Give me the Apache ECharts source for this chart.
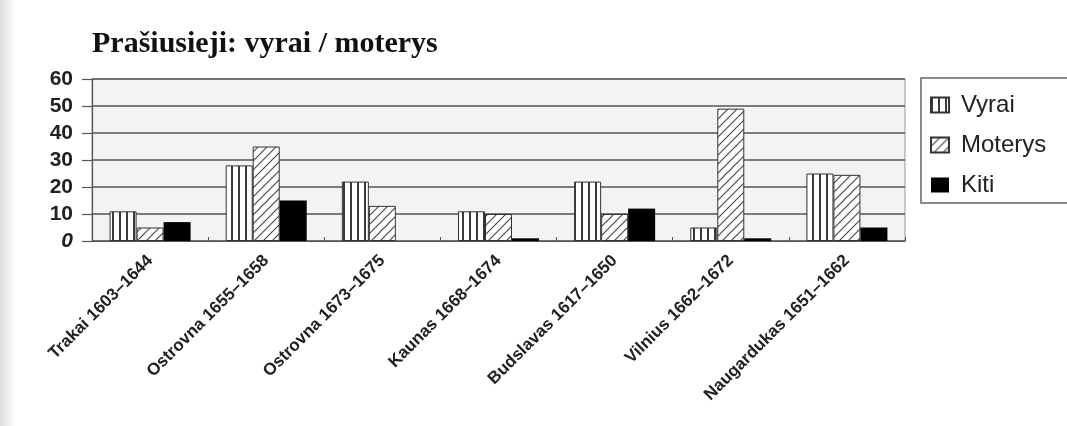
<!DOCTYPE html>
<html>
<head>
<meta charset="utf-8">
<script src="https://cdn.jsdelivr.net/npm/echarts@6/dist/echarts.min.js"></script>
<style>
html,body{margin:0;padding:0;background:#fff;}
#chart{width:1067px;height:426px;}
</style>
</head>
<body>
<div id="chart"></div>
<script>
const titleText = 'Prašiusieji: vyrai / moterys';
const categories = ['Trakai 1603–1644','Ostrovna 1655–1658','Ostrovna 1673–1675','Kaunas 1668–1674','Budslavas 1617–1650','Vilnius 1662–1672','Naugardukas 1651–1662'];
const seriesNames = ['Vyrai','Moterys','Kiti'];
const vyrai   = [11, 28, 22, 11, 22, 5, 25];
const moterys = [5, 35, 13, 10, 10, 49, 24.5];
const kiti    = [7, 15, 0, 1, 12, 1, 5];
const yTicks = [0, 10, 20, 30, 40, 50, 60];

function stripePattern(){
  const c = document.createElement('canvas');
  c.width = 7; c.height = 7;
  const g = c.getContext('2d');
  g.fillStyle = '#ffffff'; g.fillRect(0,0,7,7);
  g.fillStyle = '#3a3a3a'; g.fillRect(0,0,2,7);
  return {image: c, repeat: 'repeat'};
}
function hatchPattern(){
  const s = 9;
  const c = document.createElement('canvas');
  c.width = s; c.height = s;
  const g = c.getContext('2d');
  g.fillStyle = '#ffffff'; g.fillRect(0,0,s,s);
  g.strokeStyle = '#444444'; g.lineWidth = 1.1;
  g.beginPath();
  g.moveTo(0,s); g.lineTo(s,0);
  g.moveTo(-1,1); g.lineTo(1,-1);
  g.moveTo(s-1,s+1); g.lineTo(s+1,s-1);
  g.stroke();
  return {image: c, repeat: 'repeat'};
}

const chart = echarts.init(document.getElementById('chart'));
const barBase = {type:'bar', barWidth:27, barGap:'0%', emphasis:{disabled:true}};
chart.setOption({
  animation:false,
  backgroundColor:'#ffffff',
  graphic:[{
    type:'rect', left:0, top:0, shape:{width:16, height:426}, silent:true,
    style:{fill:new echarts.graphic.LinearGradient(0,0,1,0,[{offset:0,color:'#dcdcdc'},{offset:1,color:'#ffffff'}])}
  }],
  title:{
    text:titleText, left:87, top:24,
    textStyle:{fontFamily:'Liberation Serif', fontWeight:'bold', fontSize:30, color:'#111'}
  },
  legend:{
    left:921, top:78, orient:'vertical',
    data:seriesNames,
    backgroundColor:'#ffffff', borderColor:'#666', borderWidth:1.5, borderRadius:0,
    padding:[14,60,5,9], itemGap:14,
    itemWidth:18, itemHeight:15, icon:'rect',
    textStyle:{fontFamily:'Liberation Sans', fontSize:24, color:'#222', lineHeight:26, padding:[0,0,0,7]}
  },
  grid:{left:92, right:162, top:79, bottom:185, show:true, backgroundColor:'#f3f3f3', borderColor:'#999', borderWidth:1},
  xAxis:{
    type:'category', data:categories,
    axisLine:{lineStyle:{color:'#555', width:1.2}},
    axisTick:{show:true, inside:true, length:4, lineStyle:{color:'#555'}},
    axisLabel:{interval:0, rotate:45, margin:17, fontFamily:'Liberation Sans', fontWeight:'bold', fontSize:17, color:'#222'}
  },
  yAxis:{
    type:'value', min:yTicks[0], max:yTicks[yTicks.length-1], interval:10,
    axisLine:{show:true, lineStyle:{color:'#555', width:1.2}},
    axisTick:{show:true, length:10, lineStyle:{color:'#555', width:1.2}},
    axisLabel:{
      margin:19, fontFamily:'Liberation Sans', fontWeight:'bold', fontSize:21, color:'#222',
      formatter:function(v){ return v === 0 ? '{i|0}' : String(v); },
      rich:{i:{fontStyle:'italic', fontWeight:'bold', fontSize:21, fontFamily:'Liberation Sans', color:'#222'}}
    },
    splitLine:{show:true, lineStyle:{color:'#555', width:1.5}}
  },
  series:[
    Object.assign({}, barBase, {name:seriesNames[0], data:vyrai, itemStyle:{color:stripePattern(), borderColor:'#333', borderWidth:1}}),
    Object.assign({}, barBase, {name:seriesNames[1], data:moterys, itemStyle:{color:hatchPattern(), borderColor:'#333', borderWidth:1}}),
    Object.assign({}, barBase, {name:seriesNames[2], data:kiti, itemStyle:{color:'#000000', borderWidth:0}})
  ]
});
</script>
</body>
</html>
